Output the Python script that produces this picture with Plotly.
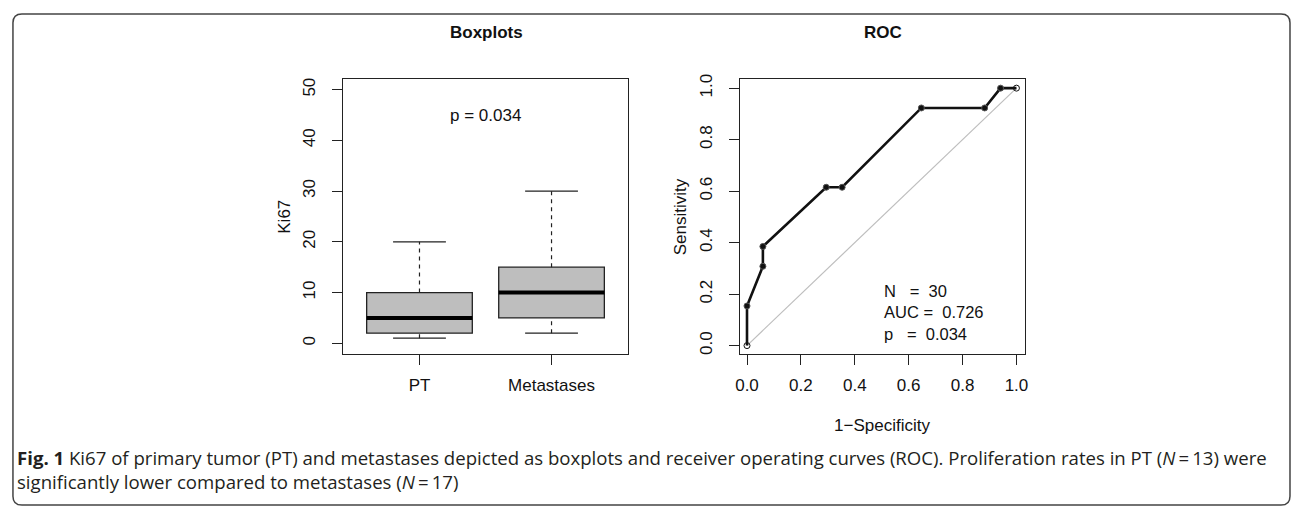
import plotly.graph_objects as go

W, H = 1292, 509

# ---------------- data ----------------
groups = ["PT", "Metastases"]
box_min = [1, 2]
box_q1 = [2, 5]
box_median = [5, 10]
box_q3 = [10, 15]
box_max = [20, 30]
box_p_label = "p = 0.034"

roc_fpr = [0.0, 0.0, 0.059, 0.059, 0.294, 0.353, 0.647, 0.882, 0.941, 1.0]
roc_tpr = [0.0, 0.154, 0.308, 0.385, 0.615, 0.615, 0.923, 0.923, 1.0, 1.0]
roc_stats = ["N\u00a0\u00a0\u00a0=\u00a0\u00a030", "AUC\u00a0=\u00a0\u00a00.726", "p\u00a0\u00a0\u00a0=\u00a0\u00a00.034"]

box_ticks = [0, 10, 20, 30, 40, 50]
roc_ticks = [0.0, 0.2, 0.4, 0.6, 0.8, 1.0]

caption = ("<b>Fig. 1</b> Ki67 of primary tumor (PT) and metastases depicted as boxplots and receiver "
           "operating curves (ROC). Proliferation rates in PT (<i>N</i>\u2009=\u200913) were<br>"
           "significantly lower compared to metastases (<i>N</i>\u2009=\u200917)")

# ---------------- layout helpers ----------------
def px_x(p):
    return p / W

def px_y(p):
    return 1 - p / H

FONT = "Liberation Sans, Arial, sans-serif"
FS = 17
GRAY = "#BEBEBE"

fig = go.Figure()

pos = [i + 1 for i in range(len(groups))]
box_w = 0.8
cap_half = 0.2

for i, g in enumerate(groups):
    fig.add_trace(go.Box(
        x=[pos[i]], q1=[box_q1[i]], median=[box_median[i]], q3=[box_q3[i]],
        lowerfence=[box_q1[i]], upperfence=[box_q3[i]],
        width=box_w, whiskerwidth=0, fillcolor=GRAY,
        line=dict(color="#222222", width=1.3), name=g, showlegend=False,
        xaxis="x", yaxis="y", hoverinfo="skip"))
    fig.add_trace(go.Scatter(x=[pos[i], pos[i]], y=[box_q3[i], box_max[i]], mode="lines",
                             line=dict(color="#222222", width=1.2, dash="4px,4px"),
                             showlegend=False, xaxis="x", yaxis="y"))
    fig.add_trace(go.Scatter(x=[pos[i], pos[i]], y=[box_min[i], box_q1[i]], mode="lines",
                             line=dict(color="#222222", width=1.2, dash="4px,4px"),
                             showlegend=False, xaxis="x", yaxis="y"))
    for v in (box_min[i], box_max[i]):
        fig.add_trace(go.Scatter(x=[pos[i] - cap_half, pos[i] + cap_half], y=[v, v], mode="lines",
                                 line=dict(color="#222222", width=1.3),
                                 showlegend=False, xaxis="x", yaxis="y"))
    fig.add_trace(go.Scatter(x=[pos[i] - box_w / 2, pos[i] + box_w / 2],
                             y=[box_median[i], box_median[i]], mode="lines",
                             line=dict(color="#000000", width=4),
                             showlegend=False, xaxis="x", yaxis="y"))

fig.add_trace(go.Scatter(x=[0, 1], y=[0, 1], mode="lines", line=dict(color=GRAY, width=1.2),
                         showlegend=False, xaxis="x2", yaxis="y2"))
sym = ["circle-open"] + ["circle"] * (len(roc_fpr) - 2) + ["circle-open"]
fig.add_trace(go.Scatter(x=roc_fpr, y=roc_tpr, mode="lines+markers",
                         line=dict(color="#111111", width=2.6),
                         marker=dict(color="#111111", size=6, symbol=sym, line=dict(width=1, color="#555555")),
                         showlegend=False, xaxis="x2", yaxis="y2"))

y_dom = [px_y(353), px_y(75)]

axis_common = dict(showgrid=False, zeroline=False, showline=True, mirror=True,
                   linecolor="#222222", linewidth=1.3, ticks="outside", ticklen=10,
                   tickwidth=1.2, tickcolor="#222222",
                   tickfont=dict(family=FONT, size=FS, color="#111111"))

fig.update_layout(
    width=W, height=H,
    margin=dict(l=0, r=0, t=0, b=0),
    paper_bgcolor="white", plot_bgcolor="white",
    xaxis=dict(domain=[px_x(340), px_x(627)], range=[0.42, 2.58], tickvals=pos, ticktext=groups,
               anchor="y", ticklabelstandoff=6, **axis_common),
    yaxis=dict(domain=y_dom, range=[-2.08, 52.08], tickvals=box_ticks, tickangle=-90,
               anchor="x", ticklabelstandoff=10, **axis_common),
    xaxis2=dict(domain=[px_x(739.3), px_x(1026.7)], range=[-0.027, 1.033], tickvals=roc_ticks,
                tickformat=".1f", anchor="y2", ticklabelstandoff=6, **axis_common),
    yaxis2=dict(domain=y_dom, range=[-0.032, 1.035], tickvals=roc_ticks, tickformat=".1f",
                tickangle=-90, anchor="x2", ticklabelstandoff=10, **axis_common),
    showlegend=False,
)

def pann(text, x, y, **kw):
    d = dict(text=text, x=px_x(x), y=px_y(y), xref="paper", yref="paper",
             xanchor="center", yanchor="middle", showarrow=False,
             font=dict(family=FONT, size=FS, color="#111111"))
    d.update(kw)
    return d

ann = []
ann.append(pann("<b>Boxplots</b>", 484, 28))
ann.append(pann("<b>ROC</b>", 883, 28))
ann.append(pann("Ki67", 281, 214, textangle=-90))
ann.append(pann("Sensitivity", 680, 214, textangle=-90))
ann.append(pann("1\u2212Specificity", 882, 426))
ann.append(dict(text=box_p_label, x=1.5, y=45, xref="x", yref="y", showarrow=False,
                xanchor="center", yanchor="middle",
                font=dict(family=FONT, size=FS, color="#111111")))
ann.append(dict(text="<br>".join(roc_stats), x=0.5, y=0.128, xref="x2", yref="y2",
                xanchor="left", yanchor="middle", align="left", showarrow=False,
                font=dict(family=FONT, size=16.5, color="#111111")))
ann.append(pann(caption, 10, 470, xanchor="left", align="left",
                font=dict(family="Open Sans, sans-serif", size=18.6, color="#231F20")))
fig.update_layout(annotations=ann)

l, t, r, b, rad = 8, 9, 1293, 506, 9
path = (f"M {px_x(l)},{px_y(t + rad)} Q {px_x(l)},{px_y(t)} {px_x(l + rad)},{px_y(t)} "
        f"L {px_x(r - rad)},{px_y(t)} Q {px_x(r)},{px_y(t)} {px_x(r)},{px_y(t + rad)} "
        f"L {px_x(r)},{px_y(b - rad)} Q {px_x(r)},{px_y(b)} {px_x(r - rad)},{px_y(b)} "
        f"L {px_x(l + rad)},{px_y(b)} Q {px_x(l)},{px_y(b)} {px_x(l)},{px_y(b - rad)} Z")
fig.add_shape(type="path", path=path, xref="paper", yref="paper",
              line=dict(color="#444444", width=1.5), layer="above")

fig.write_html("out.html", config={"displayModeBar": False},
               post_script="document.body.style.margin='0';document.body.style.overflow='hidden';")
